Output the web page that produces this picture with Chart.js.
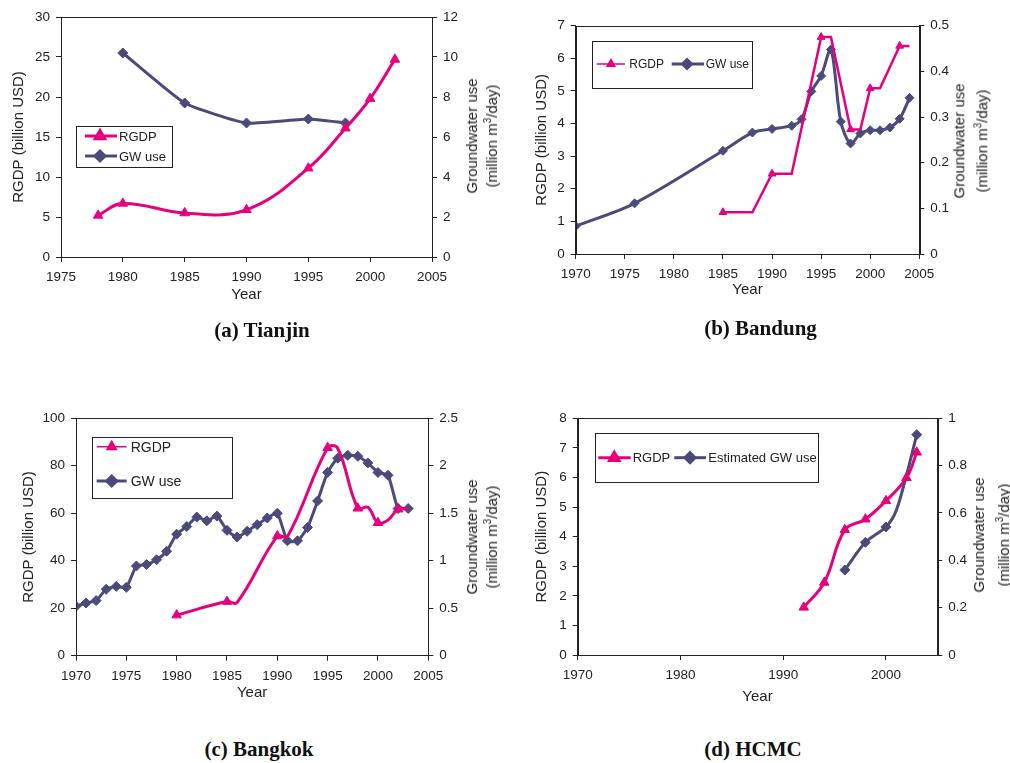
<!DOCTYPE html>
<html>
<head>
<meta charset="utf-8">
<script src="https://cdn.jsdelivr.net/npm/chart.js@4.4.1/dist/chart.umd.min.js"></script>
<style>
  body { margin: 0; background: #fff; width: 1010px; height: 763px; position: relative; overflow: hidden; font-family: "Liberation Sans", Arial, sans-serif; }
  canvas { position: absolute; }
  .cap { position: absolute; font: bold 21px "Liberation Serif", "Times New Roman", serif; color: #111; white-space: nowrap; transform: translate(-50%, -50%); }
  .gw { position: absolute; font-size: 15px; text-align: center; white-space: nowrap; color: #222; transform: translate(-50%, -50%) rotate(-90deg); }
  .gw sup { font-size: 10px; line-height: 0; }
</style>
</head>
<body>
<canvas id="cA" width="505" height="330" style="left:0;top:0"></canvas>
<canvas id="cB" width="505" height="330" style="left:505px;top:0"></canvas>
<canvas id="cC" width="505" height="330" style="left:0;top:400px"></canvas>
<canvas id="cD" width="505" height="330" style="left:505px;top:400px"></canvas>

<div class="gw" style="left:481.7px;top:136px;line-height:20px">Groundwater use<br>(million m<sup>3</sup>/day)</div>
<div class="gw" style="left:971.3px;top:140.5px;line-height:22.7px">Groundwater use<br>(million m<sup>3</sup>/day)</div>
<div class="gw" style="left:481.7px;top:537px;line-height:20px">Groundwater use<br>(million m<sup>3</sup>/day)</div>
<div class="gw" style="left:990.5px;top:534.5px;line-height:25px">Groundwater use<br>(million m<sup>3</sup>/day)</div>

<div class="cap" style="left:262px;top:330px">(a) Tianjin</div>
<div class="cap" style="left:760.5px;top:328px">(b) Bandung</div>
<div class="cap" style="left:259px;top:749px">(c) Bangkok</div>
<div class="cap" style="left:753px;top:749px">(d) HCMC</div>

<script>
"use strict";

// (a) Tianjin
const tjRgdpYears = [1978, 1980, 1985, 1990, 1995, 1998, 2000, 2002];
const tjRgdp = [5.2, 6.7, 5.5, 5.9, 11.1, 16.1, 19.8, 24.7];
const tjGwYears = [1980, 1985, 1990, 1995, 1998];
const tjGw = [10.2, 7.7, 6.7, 6.9, 6.7];

// (b) Bandung
const bdRgdpYears = [1985, 1988, 1990, 1992, 1995, 1996, 1998, 1999, 2000, 2001, 2003, 2004];
const bdRgdp = [1.28, 1.28, 2.46, 2.46, 6.65, 6.65, 3.82, 3.82, 5.08, 5.08, 6.38, 6.38];
const bdRgdpMarked = [1985, 1990, 1995, 1998, 2000, 2003];
const bdGwYears = [1970, 1976, 1985, 1988, 1990, 1992, 1993, 1994, 1995, 1996, 1997, 1998, 1999, 2000, 2001, 2002, 2003, 2004];
const bdGw = [0.061, 0.111, 0.226, 0.266, 0.274, 0.281, 0.295, 0.356, 0.390, 0.448, 0.290, 0.242, 0.264, 0.271, 0.271, 0.277, 0.296, 0.342];

// (c) Bangkok
const bkRgdpYears = [1980, 1985, 1986, 1990, 1991, 1995, 1996, 1998, 1999, 2000, 2001, 2002, 2003];
const bkRgdp = [17.1, 22.8, 22.4, 50.4, 50.1, 87.6, 87.4, 62.1, 62.5, 56.0, 57.2, 61.7, 62.0];
const bkRgdpMarked = [1980, 1985, 1990, 1995, 1998, 2000, 2002];
const bkGwYears = [1970, 1971, 1972, 1973, 1974, 1975, 1976, 1977, 1978, 1979, 1980, 1981, 1982, 1983, 1984, 1985, 1986,
                   1987, 1988, 1989, 1990, 1991, 1992, 1993, 1994, 1995, 1996, 1997, 1998, 1999, 2000, 2001, 2002, 2003];
const bkGw = [0.52, 0.555, 0.58, 0.70, 0.73, 0.72, 0.945, 0.96, 1.01, 1.10, 1.28, 1.36, 1.46, 1.42, 1.47, 1.32, 1.25,
              1.31, 1.38, 1.45, 1.50, 1.21, 1.21, 1.35, 1.63, 1.93, 2.08, 2.11, 2.10, 2.03, 1.93, 1.90, 1.55, 1.55];

// (d) HCMC
const hcRgdpYears = [1992, 1994, 1996, 1998, 2000, 2002, 2003];
const hcRgdp = [1.61, 2.45, 4.23, 4.59, 5.21, 5.99, 6.85];
const hcGwYears = [1996, 1998, 2000, 2001, 2002, 2003];
const hcGw = [0.359, 0.476, 0.541, 0.61, 0.76, 0.931];
const hcGwMarked = [1996, 1998, 2000, 2003];

const PINK = "#e6007e";
const NAVY = "#4b4a7a";
const INK = "#222";
const FONT = '"Liberation Sans", Arial, sans-serif';

function pts(xs, ys) {
    return xs.map((x, i) => ({ x: x, y: ys[i] }));
}

function markOnly(list, r) {
    return ctx => (ctx.raw && list.includes(ctx.raw.x)) ? r : 0;
}

const frame = {
    id: "frame",
    afterDraw(chart) {
        const a = chart.chartArea, ctx = chart.ctx;
        ctx.save();
        ctx.strokeStyle = INK;
        ctx.lineWidth = 1;
        ctx.strokeRect(Math.round(a.left) + 0.5, Math.round(a.top) + 0.5, Math.round(a.right - a.left), Math.round(a.bottom - a.top));
        ctx.restore();
    }
};

const boxLegend = {
    id: "boxLegend",
    afterDraw(chart, args, o) {
        const ctx = chart.ctx;
        ctx.save();
        ctx.fillStyle = "#fff";
        ctx.fillRect(o.box[0], o.box[1], o.box[2], o.box[3]);
        ctx.strokeStyle = INK;
        ctx.lineWidth = 1;
        ctx.strokeRect(Math.round(o.box[0]) + 0.5, Math.round(o.box[1]) + 0.5, Math.round(o.box[2]), Math.round(o.box[3]));
        o.items.forEach(it => {
            ctx.strokeStyle = it.color;
            ctx.fillStyle = it.color;
            ctx.lineWidth = it.width;
            ctx.beginPath();
            ctx.moveTo(it.x1, it.y);
            ctx.lineTo(it.x2, it.y);
            ctx.stroke();
            Chart.helpers.drawPoint(ctx, { pointStyle: it.style, radius: it.r, rotation: 0, borderWidth: 1 }, it.mx, it.y);
            ctx.fillStyle = INK;
            ctx.font = o.size + "px " + FONT;
            ctx.textBaseline = "middle";
            ctx.textAlign = "left";
            ctx.fillText(it.label, it.tx, it.y + 1);
        });
        ctx.restore();
    }
};

function scales(p) {
    const tickFont = { family: FONT, size: 13.5 };
    const grid = { drawOnChartArea: false, tickLength: 5, color: INK };
    const titleFont = { family: FONT, size: 15, lineHeight: 1.2 };
    return {
        x: {
            type: "linear", min: p.xMin, max: 2005,
            ticks: { stepSize: p.xStep, includeBounds: false, padding: 7, color: INK, font: tickFont, maxRotation: 0, callback: v => String(v) },
            grid: grid, border: { color: INK },
            title: { display: true, text: "Year", color: INK, font: titleFont, padding: 0 },
            afterFit: s => { s.height = p.xH; }
        },
        y: {
            position: "left", min: 0, max: p.yMax,
            ticks: { stepSize: p.yStep, padding: 6, color: INK, font: tickFont, callback: v => String(v) },
            grid: grid, border: { color: INK },
            title: { display: true, text: "RGDP (billion USD)", color: INK, font: titleFont, padding: 0 },
            afterFit: s => { s.width = p.yW; }
        },
        y2: {
            position: "right", min: 0, max: p.y2Max,
            ticks: { stepSize: p.y2Step, padding: 6, color: INK, font: tickFont, callback: v => String(v) },
            grid: grid, border: { color: INK },
            afterFit: s => { s.width = p.y2W; }
        }
    };
}

function makeChart(id, datasets, p, legend) {
    new Chart(document.getElementById(id), {
        type: "line",
        data: { datasets: datasets },
        options: {
            responsive: false,
            animation: false,
            devicePixelRatio: 1,
            layout: { padding: { left: p.padL, top: p.top, right: 0, bottom: p.padB } },
            scales: scales(p),
            plugins: { legend: { display: false }, tooltip: { enabled: false }, boxLegend: legend }
        },
        plugins: [frame, boxLegend]
    });
}

function rgdpSet(data, opts) {
    return Object.assign({
        data: data, yAxisID: "y", borderColor: PINK, backgroundColor: PINK,
        borderWidth: 3, pointStyle: "triangle", pointRadius: 5.5, pointBorderWidth: 1, tension: 0.4
    }, opts || {});
}

function gwSet(data, opts) {
    return Object.assign({
        data: data, yAxisID: "y2", borderColor: NAVY, backgroundColor: NAVY,
        borderWidth: 3, pointStyle: "rectRot", pointRadius: 5, pointBorderWidth: 1, tension: 0.3
    }, opts || {});
}

makeChart("cA", [
    rgdpSet(pts(tjRgdpYears, tjRgdp)),
    gwSet(pts(tjGwYears, tjGw), { tension: 0.15 })
], { xMin: 1975, xStep: 5, yMax: 30, yStep: 5, y2Max: 12, y2Step: 2, padL: 9.8, yW: 51.2, top: 17, y2W: 73, xH: 47, padB: 26 }, {
    box: [76, 126, 96, 41], size: 13,
    items: [
        { label: "RGDP", color: PINK, width: 3, style: "triangle", r: 5.5, x1: 85, x2: 117, mx: 100, tx: 119, y: 136 },
        { label: "GW use", color: NAVY, width: 3, style: "rectRot", r: 5, x1: 85, x2: 117, mx: 100, tx: 119, y: 156 }
    ]
});

makeChart("cB", [
    rgdpSet(pts(bdRgdpYears, bdRgdp), { tension: 0, borderWidth: 2.5, pointRadius: markOnly(bdRgdpMarked, 4.5) }),
    gwSet(pts(bdGwYears, bdGw), { pointRadius: 4.5 })
], { xMin: 1970, xStep: 5, yMax: 7, yStep: 1, y2Max: 0.5, y2Step: 0.1, padL: 27.7, yW: 43, top: 25.7, y2W: 90.7, xH: 45, padB: 31 }, {
    box: [86.7, 41, 160, 47], size: 12,
    items: [
        { label: "RGDP", color: PINK, width: 1.5, style: "triangle", r: 4.5, x1: 91.7, x2: 120, mx: 106, tx: 124.3, y: 64 },
        { label: "GW use", color: NAVY, width: 3, style: "rectRot", r: 4.5, x1: 166.7, x2: 199, mx: 182, tx: 200.7, y: 64 }
    ]
});

makeChart("cC", [
    rgdpSet(pts(bkRgdpYears, bkRgdp), { pointRadius: markOnly(bkRgdpMarked, 5.5) }),
    gwSet(pts(bkGwYears, bkGw), { tension: 0.2 })
], { xMin: 1970, xStep: 5, yMax: 100, yStep: 20, y2Max: 2.5, y2Step: 0.5, padL: 20.3, yW: 55.7, top: 18.3, y2W: 76.7, xH: 46.6, padB: 27.7 }, {
    box: [92, 36.7, 140, 61], size: 14,
    items: [
        { label: "RGDP", color: PINK, width: 1.5, style: "triangle", r: 5.5, x1: 96.7, x2: 126.7, mx: 111.7, tx: 130.7, y: 46.7 },
        { label: "GW use", color: NAVY, width: 3, style: "rectRot", r: 5, x1: 96.7, x2: 126.7, mx: 111.7, tx: 130.7, y: 81 }
    ]
});

makeChart("cD", [
    rgdpSet(pts(hcRgdpYears, hcRgdp)),
    gwSet(pts(hcGwYears, hcGw), { pointRadius: markOnly(hcGwMarked, 5) })
], { xMin: 1970, xStep: 10, yMax: 8, yStep: 1, y2Max: 1, y2Step: 0.2, padL: 27.7, yW: 45, top: 18.3, y2W: 72.7, xH: 50.7, padB: 24.3 }, {
    box: [90, 33.3, 223.3, 49], size: 13,
    items: [
        { label: "RGDP", color: PINK, width: 3, style: "triangle", r: 5.5, x1: 93.3, x2: 125.7, mx: 109.3, tx: 127.7, y: 57.7 },
        { label: "Estimated GW use", color: NAVY, width: 3, style: "rectRot", r: 5, x1: 169.3, x2: 201, mx: 185, tx: 203.3, y: 57.7 }
    ]
});
</script>
</body>
</html>
